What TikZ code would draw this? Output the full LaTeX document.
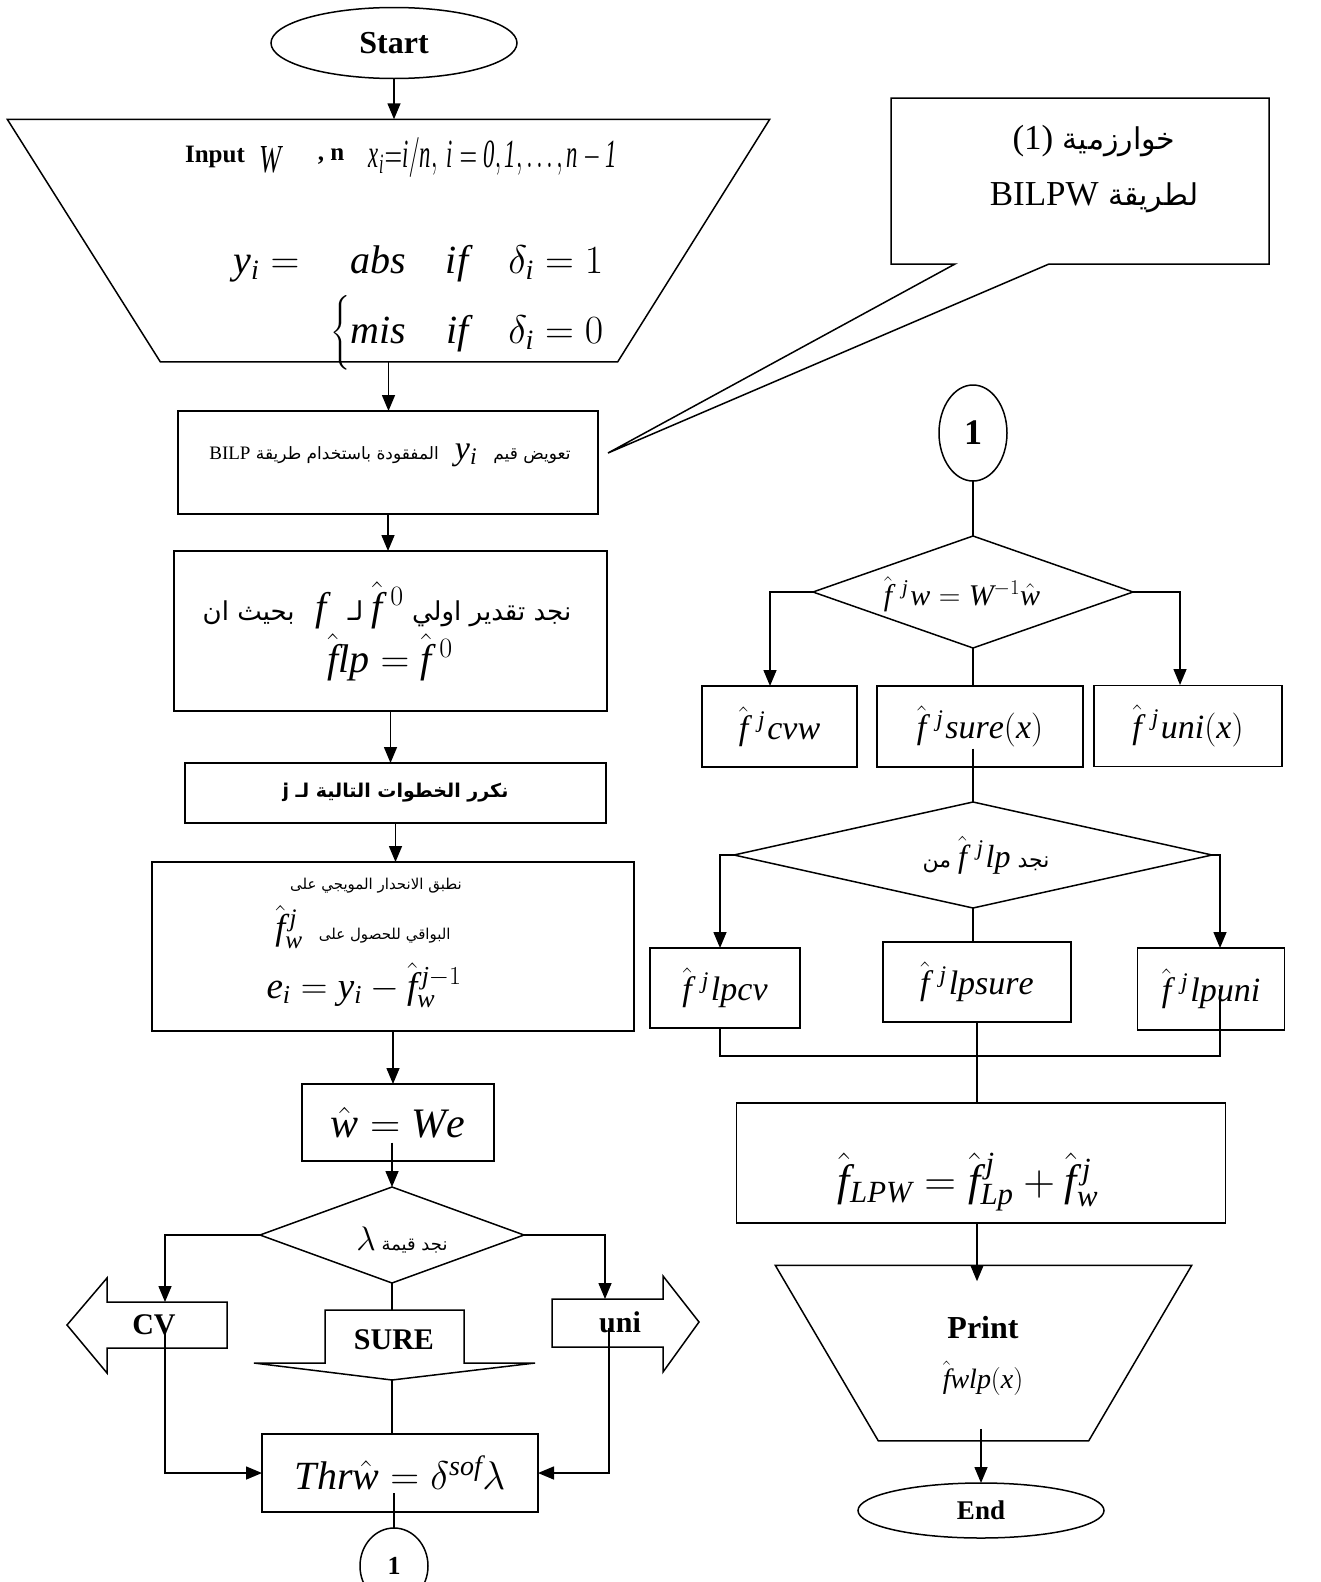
\RequirePackage{fix-cm}
\documentclass[tikz,border=0pt]{standalone}
\usepackage{graphicx}
\usepackage{amsmath}
\usepackage{fontspec}
\setmainfont{Liberation Serif}
\newfontfamily\arabicfont[Script=Arabic]{DejaVu Sans}
\TeXXeTstate=1
\usetikzlibrary{arrows.meta,shapes.geometric,positioning}
\newcommand{\ar}[1]{{\arabicfont\beginR #1\endR}}
\newcommand{\fsz}[1]{\fontsize{#1}{#1}\selectfont}
\newcommand{\fhat}{\hat{\mathit{f}}}
\newcommand{\fj}{\fhat^{\hspace{10pt}\mathit{j}}\hspace{2pt}}

\begin{document}
\begin{tikzpicture}[x=1pt,y=-1pt,line width=1.5pt,
  >={Triangle[length=16pt,width=13pt]},
  box/.style={draw,rectangle,inner sep=0pt,outer sep=0pt},
  term/.style={draw,ellipse,inner sep=0pt,outer sep=0pt},
  decide/.style={draw,diamond,inner sep=0pt,outer sep=0pt},
  txt/.style={inner sep=0pt}]
\useasboundingbox (0,0) rectangle (1320,1582);

% left column
\node[term,minimum width=246pt,minimum height=71pt] (start) at (394,43) {\fsz{32}\textbf{Start}};

\node[minimum width=761pt,minimum height=241pt,inner sep=0pt] (input) at (388.5,240.5) {};
\draw (input.north west) -- (input.north east) -- ([xshift=-152pt]input.south east) -- ([xshift=153pt]input.south west) -- cycle;
\node[txt] (inlbl) at (215,157) {\fsz{25}\textbf{Input}};
\node[txt] (inw) at (270,160) {\resizebox{22pt}{26pt}{$\mathit{W}$}};
\node[txt] (inn) at (331,157) {\fsz{25}\textbf{, n}};
\node[txt] (inx) at (493,157) {\resizebox{248pt}{30pt}{$\mathit{x_i{=}i/n,\ i=0,1,\dots,n-1}$}};
\node[txt,anchor=east] (ycase) at (604,264) {\fsz{40}$\mathit{y_i}=\quad \mathit{abs}\quad \mathit{if}\quad \delta_{\mathit{i}}=1$};
\node[txt,anchor=east] (ncase) at (604,333) {\fsz{40}$\Big\{\mathit{mis}\quad \mathit{if}\quad \delta_{\mathit{i}}=0$};

\node[box,minimum width=420pt,minimum height=103pt] (bilp) at (388,462.5) {};
\node[txt] (bilptxt) at (390,455) {\fsz{17}\ar{تعويض قيم \mbox{\fsz{34}$\ \mathit{y_i}\ $} المفقودة باستخدام طريقة \mbox{\rmfamily\fsz{19}BILP}}};

\node[box,minimum width=433pt,minimum height=160pt] (init) at (390.5,631) {};
\node[txt] (inittxt) at (387,605) {\fsz{26}\ar{نجد تقدير اولي \mbox{\fsz{40}$\fhat^{\;0}$} لـ \mbox{\fsz{40}$\ \mathit{f}\ $} بحيث ان}};
\node[txt] (initeq) at (390,657) {\fsz{40}$\fhat\mathit{lp}=\fhat^{\;0}$};

\node[box,minimum width=421pt,minimum height=60pt] (loop) at (395.5,793) {\fsz{19}\bfseries\ar{نكرر الخطوات التالية لـ \mbox{j}}};

\node[box,minimum width=482pt,minimum height=169pt] (reg) at (393,946.5) {};
\node[txt] (regl1) at (376,886) {\fsz{15}\ar{نطبق الانحدار المويجي على}};
\node[txt] (regl2) at (363,927) {\fsz{15}\ar{البواقي للحصول على \mbox{\fsz{36}$\fhat_{\mathit{w}}^{\,\mathit{j}}\ $}}};
\node[txt] (regl3) at (364,985) {\fsz{37}$\mathit{e_i}=\mathit{y_i}-\fhat_{\mathit{w}}^{\,\mathit{j}-1}$};

\node[box,minimum width=192pt,minimum height=77pt] (wwe) at (398,1122.5) {\fsz{42}$\hat{\mathit{w}}=\mathit{We}$};

\node[decide,minimum width=264pt,minimum height=96pt] (lam) at (392,1235) {};
\node[txt] (lamtxt) at (402,1240) {\fsz{18}\ar{نجد قيمة \mbox{\fsz{34}$\lambda$}}};

% block arrows
\draw (227,1302) -- (107,1302) -- (107,1278) -- (67,1325) -- (107,1373) -- (107,1348) -- (227,1348) -- cycle;
\node[txt] (cvtxt) at (154,1325) {\fsz{30}\textbf{CV}};
\draw (325,1310) -- (464,1310) -- (464,1363) -- (535,1363) -- (392,1380) -- (254,1363) -- (325,1363) -- cycle;
\node[txt] (suretxt) at (394,1340) {\fsz{30}\textbf{SURE}};
\draw (552,1299) -- (663,1299) -- (663,1276) -- (699,1322) -- (663,1372) -- (663,1347) -- (552,1347) -- cycle;
\node[txt] (unitxt) at (620,1322) {\fsz{30}\textbf{uni}};
\coordinate (cvtop) at (165,1302);
\coordinate (cvin) at (165,1328);
\coordinate (unitop) at (605,1299);
\coordinate (uniin) at (609,1328);
\coordinate (suretop) at (392,1310);
\coordinate (suretip) at (392,1380);

\node[box,minimum width=276pt,minimum height=78pt] (thr) at (400,1473) {\fsz{40}$\mathit{Thr}\hat{\mathit{w}}=\delta^{\mathit{sof}}\lambda$};
\node[term,minimum width=68pt,minimum height=76pt] (conb) at (394,1566) {\fsz{26}\textbf{1}};

% left connectors
\draw[->] (start.south) -- (start.south |- input.north);
\draw[->] (input.south) -- (input.south |- bilp.north);
\draw[->] (bilp.south) -- (bilp.south |- init.north);
\draw[->] (init.south) -- (init.south |- loop.north);
\draw[->] (loop.south) -- (loop.south |- reg.north);
\draw[->] (reg.south) -- (reg.south |- wwe.north);
\draw[->] (lam.north |- wwe.center) ++(0,20) -- (lam.north);
\draw[->] (lam.west) -| (cvtop);
\draw[->] (lam.east) -| (unitop);
\draw (lam.south) -- (suretop);
\draw (suretip) -- (suretip |- thr.north);
\draw[->] (cvin) |- (thr.west);
\draw[->] (uniin) |- (thr.east);
\draw (conb.north |- thr.center) ++(0,20) -- (conb.north);

% callout
\draw (891,98) -- (1269,98) -- (1269,264) -- (1049,264) -- (608,453) -- (955,264) -- (891,264) -- cycle;
\node[txt] (note1) at (1094,141) {\fsz{30}\ar{خوارزمية \mbox{\rmfamily\fsz{35}(1)}}};
\node[txt] (note2) at (1094,198) {\fsz{30}\ar{لطريقة \mbox{\rmfamily\fsz{35}BILPW}}};

% right column
\node[term,minimum width=68pt,minimum height=96pt] (cona) at (973,433) {\fsz{36}\textbf{1}};
\node[decide,minimum width=320pt,minimum height=112pt] (dwav) at (973,592) {};
\node[txt] (dwavtxt) at (962,594) {\fsz{30}$\fj\mathit{w}=\mathit{W}^{-1}\hat{\mathit{w}}$};
\node[box,minimum width=155pt,minimum height=81pt] (bcvw) at (779.5,726.5) {\fsz{34}$\fj\mathit{cvw}$};
\node[box,minimum width=206pt,minimum height=81pt] (bsure) at (980,726.5) {\fsz{34}$\fj\mathit{sure}(\mathit{x})$};
\node[box,minimum width=188pt,minimum height=81pt] (buni) at (1188,726) {\fsz{34}$\fj\mathit{uni}(\mathit{x})$};
\coordinate (cvwtop) at (770,686);
\coordinate (unitop2) at (1180,685);

\node[decide,minimum width=478pt,minimum height=106pt] (dlp) at (973,855) {};
\node[txt] (dlptxt) at (986,855) {\fsz{22}\ar{نجد \mbox{\fsz{32}$\fj\mathit{lp}$} من}};
\node[box,minimum width=150pt,minimum height=80pt] (blpcv) at (725,988) {\fsz{34}$\fj\mathit{lpcv}$};
\node[box,minimum width=188pt,minimum height=80pt] (blpsure) at (977,982) {\fsz{34}$\fj\mathit{lpsure}$};
\node[box,minimum width=147pt,minimum height=82pt] (blpuni) at (1211,989) {\fsz{34}$\fj\mathit{lpuni}$};
\coordinate (lpcvtop) at (720,948);
\coordinate (lpunitop) at (1220,948);
\coordinate (mergel) at (720,1056);
\coordinate (merger) at (1220,1056);

\node[box,minimum width=489pt,minimum height=120pt] (lpw) at (981,1163) {};
\node[txt] (lpwtxt) at (968,1182) {\fsz{44}$\fhat_{\mathit{LPW}}=\fhat^{\,\mathit{j}}_{\mathit{Lp}}+\fhat^{\,\mathit{j}}_{\mathit{w}}$};

\node[minimum width=415pt,minimum height=174pt,inner sep=0pt] (print) at (983.5,1353) {};
\draw (print.north west) -- (print.north east) -- ([xshift=-103pt]print.south east) -- ([xshift=103pt]print.south west) -- cycle;
\node[txt] (printlbl) at (983,1328) {\fsz{32}\textbf{Print}};
\node[txt] (printeq) at (983,1378) {\fsz{28}$\fhat\mathit{wlp}(\mathit{x})$};
\node[term,minimum width=246pt,minimum height=55pt] (stop) at (981,1510.5) {\fsz{27}\textbf{End}};

% right connectors
\draw (cona.south) -- (dwav.north);
\draw[->] (dwav.west) -| (cvwtop);
\draw[->] (dwav.east) -| (unitop2);
\draw (dwav.south) -- (dwav.south |- bsure.north);
\draw (dwav.south |- bsure.center) ++(0,22) -- (dlp.north);
\draw[->] (dlp.west) -| (lpcvtop);
\draw[->] (dlp.east) -| (lpunitop);
\draw (dlp.south) -- (dlp.south |- blpsure.north);
\draw (lpcvtop |- blpcv.south) -- (mergel) -- (merger) -- (lpunitop |- blpuni.center);
\draw (blpsure.south) -- (blpsure.south |- lpw.north);
\draw[->] (blpsure.south |- lpw.south) -- (blpsure.south |- print.north) -- ++(0,16);
\draw[->] (stop.north |- print.south) ++(0,-12) -- (stop.north);
\end{tikzpicture}
\end{document}
